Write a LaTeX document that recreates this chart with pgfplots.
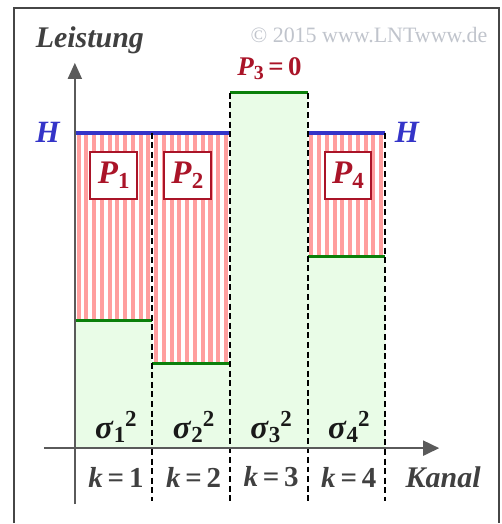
\documentclass[border=0pt]{standalone}
\usepackage{fontspec}
\setmainfont{Liberation Serif}
\usepackage{pgfplots}
\pgfplotsset{compat=1.18}
\usetikzlibrary{arrows.meta}

\definecolor{fillgreen}{RGB}{233,252,231}
\definecolor{linegreen}{RGB}{10,128,10}
\definecolor{hblue}{RGB}{52,52,200}
\definecolor{darkred}{RGB}{170,20,40}
\definecolor{stripe}{RGB}{255,158,158}
\definecolor{axgray}{RGB}{90,90,90}
\definecolor{txtgray}{RGB}{64,64,64}
\definecolor{copygray}{RGB}{192,196,204}
\definecolor{framegray}{RGB}{70,70,70}

\newcommand{\bi}[1]{\textbf{\textit{#1}}}
\newcommand{\lo}[2]{\raisebox{-0.3ex}{\fontsize{#1}{#1}\selectfont\textbf{#2}}}
\newcommand{\hi}[2]{\raisebox{0.75ex}{\fontsize{#1}{#1}\selectfont\textbf{#2}}}
\newcommand{\pbox}[1]{\bi{P}\lo{11.5}{#1}}
\newcommand{\sig}[1]{\bi{σ}\lo{11.5}{#1}\hi{11.5}{2}}
\newcommand{\kk}[1]{\bi{k}\,\textbf{=}\,\textbf{#1}}

\tikzset{
  pb/.style={draw=darkred, line width=1pt, fill=white, minimum width=23.5pt, minimum height=23.5pt,
             inner sep=0pt, text=darkred, font=\fontsize{16.5}{16.5}\selectfont},
  sg/.style={text=black!90, font=\fontsize{16.5}{16.5}\selectfont},
  kl/.style={text=txtgray, font=\fontsize{14.5}{14.5}\selectfont},
  bound/.style={black, line width=1pt, dash pattern=on 3pt off 1.8pt},
  noise/.style={linegreen, line width=1.5pt},
}

\begin{document}
\begin{tikzpicture}
\begin{axis}[
  scale only axis, width=251pt, height=262pt,
  xmin=-0.9646, xmax=5.492, ymin=-75, ymax=449,
  hide axis, clip=false,
]
% picture extent
\path (rel axis cs:0,0) rectangle (rel axis cs:1,1);
% pouring level H = 316 over channels 1..4, drawn as vertical stripes;
% the noise level covers it from below
\pgfplotsinvokeforeach{0,...,39}{
  \fill[stripe] (axis cs:#1/10+0.022,0) rectangle (axis cs:#1/10+0.074,316);
}
% noise powers sigma_k^2
\addplot[const plot, draw=none, fill=fillgreen]
  coordinates {(0,128) (1,85) (2,356) (3,192) (4,192)} \closedcycle;
\addplot[noise] coordinates {(0,128) (1,128)};
\addplot[noise] coordinates {(1,85) (2,85)};
\addplot[noise] coordinates {(2,356) (3,356)};
\addplot[noise] coordinates {(3,192) (4,192)};
% water level H
\addplot[hblue, line width=2.2pt] coordinates {(0,316) (2,316)};
\addplot[hblue, line width=2.2pt] coordinates {(3,316) (4,316)};
% channel boundaries
\addplot[bound] coordinates {(1,316) (1,-53)};
\addplot[bound] coordinates {(2,356) (2,-53)};
\addplot[bound] coordinates {(3,356) (3,-53)};
\addplot[bound] coordinates {(4,316) (4,-53)};

% axes
\draw[axgray, line width=0.9pt, -{Triangle[length=8pt,width=7pt]}] (axis cs:0,-56) -- (axis cs:0,386);
\draw[axgray, line width=0.9pt, -{Triangle[length=8pt,width=7.5pt]}] (axis cs:-0.399,0) -- (axis cs:4.695,0);

% frame
\draw[framegray, line width=1pt] (axis cs:-0.785,-75) -- (axis cs:-0.785,441) -- (axis cs:5.466,441) -- (axis cs:5.466,-75);

% labels
\node[txtgray, font=\fontsize{15}{15}\selectfont] at (axis cs:0.193,409) {\bi{Leistung}};
\node[copygray, font=\fontsize{11}{11}\selectfont] at (axis cs:3.79,414) {© 2015 www.LNTwww.de};
\node[hblue, font=\fontsize{15.5}{15.5}\selectfont] at (axis cs:-0.347,316) {\bi{H}};
\node[hblue, font=\fontsize{15.5}{15.5}\selectfont] at (axis cs:4.283,316) {\bi{H}};
\node[darkred, font=\fontsize{13.5}{13.5}\selectfont] at (axis cs:2.508,380) {\bi{P}\lo{10}{3}\,\textbf{=}\,\textbf{0}};

\node[pb] at (axis cs:0.5,273.5) {\pbox{1}};
\node[pb] at (axis cs:1.45,273.5) {\pbox{2}};
\node[pb] at (axis cs:3.52,273.5) {\pbox{4}};

\node[sg] at (axis cs:0.53,21) {\sig{1}};
\node[sg] at (axis cs:1.53,21) {\sig{2}};
\node[sg] at (axis cs:2.53,21) {\sig{3}};
\node[sg] at (axis cs:3.53,21) {\sig{4}};

\node[kl] at (axis cs:0.53,-29) {\kk{1}};
\node[kl] at (axis cs:1.53,-29) {\kk{2}};
\node[kl] at (axis cs:2.53,-29) {\kk{3}};
\node[kl] at (axis cs:3.53,-29) {\kk{4}};
\node[txtgray, font=\fontsize{15}{15}\selectfont] at (axis cs:4.746,-29) {\bi{Kanal}};
\end{axis}
\end{tikzpicture}
\end{document}
